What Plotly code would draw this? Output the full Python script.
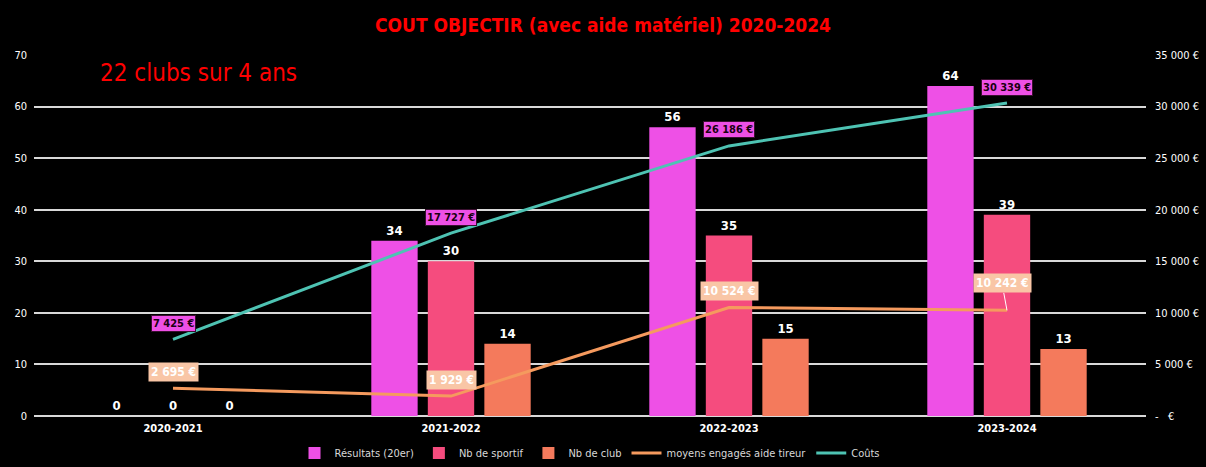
import plotly.graph_objects as go

categories = ["2020-2021", "2021-2022", "2022-2023", "2023-2024"]
resultats = [0, 34, 56, 64]
sportifs = [0, 30, 35, 39]
clubs = [0, 14, 15, 13]
moyens = [2695, 1929, 10524, 10242]
couts = [7425, 17727, 26186, 30339]

right_ticks = [0, 5000, 10000, 15000, 20000, 25000, 30000, 35000]
right_ticktext = ["-   €", "5 000 €", "10 000 €", "15 000 €", "20 000 €", "25 000 €", "30 000 €", "35 000 €"]

def eur(v):
    return f"{v:,}".replace(",", " ") + " €"

FONT = "DejaVu Sans Condensed, DejaVu Sans"
fig = go.Figure()
bar_font = dict(color="white", size=13, family=FONT)
for name, vals, col in [("Résultats (20er)", resultats, "#EE50E6"),
                        ("Nb de sportif", sportifs, "#F54C7E"),
                        ("Nb de club", clubs, "#F47A5C")]:
    fig.add_trace(go.Bar(name=name, x=categories, y=vals, marker=dict(color=col, line=dict(width=0)),
                         text=[f"<b>{v}</b>" for v in vals], textposition="outside",
                         textfont=bar_font, cliponaxis=False))
fig.add_trace(go.Scatter(name="moyens engagés aide tireur", x=categories, y=moyens, yaxis="y2",
                         mode="lines", line=dict(color="#F59A5E", width=3)))
fig.add_trace(go.Scatter(name="Coûts", x=categories, y=couts, yaxis="y2",
                         mode="lines", line=dict(color="#4EC3B3", width=3)))

for i, (c, v) in enumerate(zip(categories, couts)):
    fig.add_annotation(x=c, y=v, yref="y2", text=f"<b>{eur(v)}</b>", showarrow=False, yshift=16,
                       bgcolor="#EE50E6", bordercolor="#3a1030", borderwidth=1, borderpad=1,
                       font=dict(color="#1a0010", size=11, family=FONT))
for i, (c, v) in enumerate(zip(categories, moyens)):
    if i == 3:
        fig.add_annotation(x=c, y=v, yref="y2", text=f"<b>{eur(v)}</b>", showarrow=True,
                           ax=-5, ay=-27, arrowhead=0, arrowwidth=1, arrowcolor="white",
                           bgcolor="#F9C6A6", borderpad=2,
                           font=dict(color="white", size=12, family=FONT))
    else:
        fig.add_annotation(x=c, y=v, yref="y2", text=f"<b>{eur(v)}</b>", showarrow=False, yshift=16,
                           bgcolor="#F9C6A6", borderpad=2,
                           font=dict(color="white", size=12, family=FONT))

fig.add_annotation(x=0.058, y=0.995, xref="paper", yref="paper", text="22 clubs sur 4 ans",
                   showarrow=False, xanchor="left", yanchor="top",
                   font=dict(color="#FF0000", size=24, family=FONT))

fig.update_layout(
    width=1206, height=467,
    paper_bgcolor="black", plot_bgcolor="black",
    margin=dict(l=34, r=60, t=55, b=51),
    title=dict(text="<b>COUT OBJECTIR (avec aide matériel) 2020-2024</b>", x=0.5, xanchor="center",
               y=0.945, yanchor="middle", font=dict(color="#FF0000", size=19, family=FONT)),
    barmode="group", bargap=0.39, bargroupgap=0.18,
    xaxis=dict(showgrid=False, tickfont=dict(color="white", size=11, family=FONT),
               ticklabelstandoff=4, showline=False, zeroline=False, automargin=False,
               tickprefix="<b>", ticksuffix="</b>"),
    yaxis=dict(range=[0, 70], dtick=10, gridcolor="#D9D9D9", gridwidth=1.5, zeroline=True,
               zerolinecolor="#D9D9D9", zerolinewidth=1.5, automargin=False,
               tickfont=dict(color="white", size=11, family=FONT), ticklabelstandoff=6),
    yaxis2=dict(range=[0, 35000], overlaying="y", side="right", tickvals=right_ticks,
                ticktext=right_ticktext, showgrid=False, zeroline=False, automargin=False,
                tickfont=dict(color="white", size=11, family=FONT), ticklabelstandoff=8),
    legend=dict(orientation="h", x=0.5, xanchor="center", yref="container", y=0.03, yanchor="middle",
                font=dict(color="#D9D9D9", size=11, family=FONT), bgcolor="rgba(0,0,0,0)",
                traceorder="normal", itemwidth=30),
    showlegend=True,
)

fig.write_html("out.html", config={"displayModeBar": False},
               post_script="document.body.style.margin='0';document.body.style.background='black';")
